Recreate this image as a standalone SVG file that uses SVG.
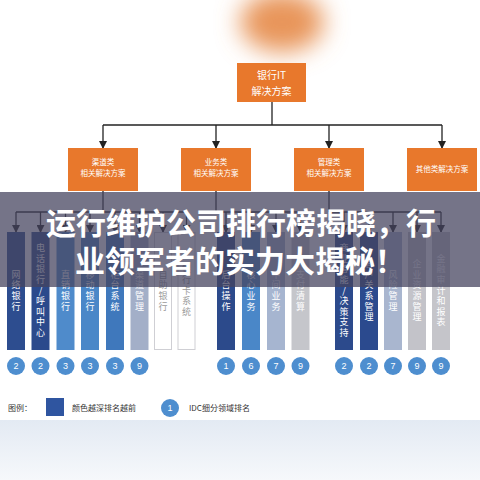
<svg xmlns="http://www.w3.org/2000/svg" width="480" height="480" viewBox="0 0 480 480">
<defs>
<filter id="blur" x="-50%" y="-50%" width="200%" height="200%"><feGaussianBlur stdDeviation="12"/></filter>
<linearGradient id="bottom" x1="0" y1="0" x2="0" y2="1"><stop offset="0" stop-color="#E3EAF3"/><stop offset="1" stop-color="#F6F8FB"/></linearGradient>
<marker id="arr" markerWidth="8" markerHeight="8" refX="7" refY="4" orient="auto" markerUnits="userSpaceOnUse"><path d="M0,0 L8,4 L0,8 Z" fill="#222"/></marker>
</defs>
<style>
.box{fill:#E8782C}
.bt{font-family:"Noto Sans CJK SC","Liberation Sans",sans-serif;fill:#fff;text-anchor:middle}
.ln{stroke:#222;stroke-width:1.3;fill:none}
.ar{stroke:#222;stroke-width:1.3;fill:none;marker-end:url(#arr)}
.ct{font-family:"Noto Sans CJK SC",sans-serif;font-size:9px;letter-spacing:1.6px;text-anchor:middle;writing-mode:vertical-rl;text-orientation:upright;fill:#fff}
.cg{fill:#9A9A9A}
.num{fill:#4E8ECF}
.nt{font-family:"Liberation Sans",sans-serif;font-size:9px;fill:#fff;text-anchor:middle}
.lg{font-family:"Noto Sans CJK SC",sans-serif;font-size:8px;fill:#333}
.ban{font-family:"Noto Sans CJK SC",sans-serif;font-weight:700;font-size:30px;fill:#fff;text-anchor:middle}
</style>
<rect width="480" height="480" fill="#FFFFFF"/>
<rect x="0" y="420" width="480" height="60" fill="url(#bottom)"/>
<ellipse cx="282" cy="22" rx="42" ry="30" fill="#E8955A" filter="url(#blur)"/>

<g id="connectors">
<line class="ln" x1="272" y1="102" x2="272" y2="125"/>
<line class="ln" x1="103" y1="125" x2="442" y2="125"/>
<line class="ar" x1="103" y1="125" x2="103" y2="148"/>
<line class="ar" x1="216" y1="125" x2="216" y2="148"/>
<line class="ar" x1="329" y1="125" x2="329" y2="148"/>
<line class="ar" x1="442" y1="125" x2="442" y2="148"/>
<line class="ln" x1="103" y1="190" x2="103" y2="212"/>
<line class="ln" x1="16" y1="212" x2="186.5" y2="212"/>
<line class="ar" x1="16" y1="212" x2="16" y2="232"/>
<line class="ar" x1="40.5" y1="212" x2="40.5" y2="232"/>
<line class="ar" x1="65.5" y1="212" x2="65.5" y2="232"/>
<line class="ar" x1="90" y1="212" x2="90" y2="232"/>
<line class="ar" x1="115" y1="212" x2="115" y2="232"/>
<line class="ar" x1="139.5" y1="212" x2="139.5" y2="232"/>
<line class="ar" x1="163" y1="212" x2="163" y2="232"/>
<line class="ar" x1="186.5" y1="212" x2="186.5" y2="232"/>
<line class="ln" x1="216" y1="190" x2="216" y2="212"/>
<line class="ln" x1="216" y1="212" x2="300.5" y2="212"/>
<line class="ar" x1="226" y1="212" x2="226" y2="232"/>
<line class="ar" x1="251" y1="212" x2="251" y2="232"/>
<line class="ar" x1="276" y1="212" x2="276" y2="232"/>
<line class="ar" x1="300.5" y1="212" x2="300.5" y2="232"/>
<line class="ln" x1="329" y1="190" x2="329" y2="212"/>
<line class="ln" x1="329" y1="212" x2="441" y2="212"/>
<line class="ar" x1="344" y1="212" x2="344" y2="232"/>
<line class="ar" x1="369" y1="212" x2="369" y2="232"/>
<line class="ar" x1="393" y1="212" x2="393" y2="232"/>
<line class="ar" x1="417" y1="212" x2="417" y2="232"/>
<line class="ar" x1="441" y1="212" x2="441" y2="232"/>
</g>

<g id="root"><rect class="box" x="237" y="63" width="69" height="39"/><text class="bt" x="271.5" y="79" font-size="10">银行IT</text><text class="bt" x="271.5" y="95" font-size="10">解决方案</text></g>
<g id="cat1"><rect class="box" x="68" y="148" width="70" height="43"/><text class="bt" x="103" y="165" font-size="7.5">渠道类</text><text class="bt" x="103" y="176" font-size="7.5">相关解决方案</text></g>
<g id="cat2"><rect class="box" x="181" y="148" width="70" height="43"/><text class="bt" x="216" y="165" font-size="7.5">业务类</text><text class="bt" x="216" y="176" font-size="7.5">相关解决方案</text></g>
<g id="cat3"><rect class="box" x="294" y="148" width="70" height="43"/><text class="bt" x="329" y="165" font-size="7.5">管理类</text><text class="bt" x="329" y="176" font-size="7.5">相关解决方案</text></g>
<g id="cat4"><rect class="box" x="407" y="148" width="70" height="43"/><text class="bt" x="442" y="172" font-size="7.5">其他类解决方案</text></g>

<g id="c1"><rect x="7" y="232" width="18" height="118" fill="#2D4D8F"/><text class="ct" x="16" y="291">网络银行</text><circle class="num" cx="16" cy="366" r="9"/><text class="nt" x="16" y="369">2</text></g>
<g id="c2"><rect x="31.5" y="232" width="18" height="118" fill="#2B4A8C"/><text class="ct" x="40.5" y="291">电话银行/呼叫中心</text><circle class="num" cx="40.5" cy="366" r="9"/><text class="nt" x="40.5" y="369">2</text></g>
<g id="c3"><rect x="56.5" y="232" width="18" height="118" fill="#4F8BCB"/><text class="ct" x="65.5" y="291">直销银行</text><circle class="num" cx="65.5" cy="366" r="9"/><text class="nt" x="65.5" y="369">3</text></g>
<g id="c4"><rect x="81" y="232" width="18" height="118" fill="#4A87C8"/><text class="ct" x="90" y="291">移动银行</text><circle class="num" cx="90" cy="366" r="9"/><text class="nt" x="90" y="369">3</text></g>
<g id="c5"><rect x="106" y="232" width="18" height="118" fill="#3F78BC"/><text class="ct" x="115" y="291">柜台系统</text><circle class="num" cx="115" cy="366" r="9"/><text class="nt" x="115" y="369">3</text></g>
<g id="c6"><rect x="130.5" y="232" width="18" height="118" fill="#A3AFC8"/><text class="ct" x="139.5" y="291">渠道管理</text><circle class="num" cx="139.5" cy="366" r="9"/><text class="nt" x="139.5" y="369">9</text></g>
<g id="c7"><rect x="154.5" y="232.5" width="17" height="117" fill="#FFFFFF" stroke="#CFCFD4"/><text class="ct cg" x="163" y="291">自助银行</text></g>
<g id="c8"><rect x="178" y="232.5" width="17" height="117" fill="#FFFFFF" stroke="#CFCFD4"/><text class="ct cg" x="186.5" y="291">银行卡系统</text></g>
<g id="c9"><rect x="217" y="232" width="18" height="118" fill="#2C4A8B"/><text class="ct" x="226" y="291">后台操作</text><circle class="num" cx="226" cy="366" r="9"/><text class="nt" x="226" y="369">1</text></g>
<g id="c10"><rect x="242" y="232" width="18" height="118" fill="#4A87C8"/><text class="ct" x="251" y="291">核心业务</text><circle class="num" cx="251" cy="366" r="9"/><text class="nt" x="251" y="369">6</text></g>
<g id="c11"><rect x="267" y="232" width="18" height="118" fill="#A6B5D0"/><text class="ct" x="276" y="291">中间业务</text><circle class="num" cx="276" cy="366" r="9"/><text class="nt" x="276" y="369">7</text></g>
<g id="c12"><rect x="291.5" y="232" width="18" height="118" fill="#C5C6CB"/><text class="ct" x="300.5" y="291">支付清算</text><circle class="num" cx="300.5" cy="366" r="9"/><text class="nt" x="300.5" y="369">9</text></g>
<g id="c13"><rect x="335" y="232" width="18" height="118" fill="#2C4A8C"/><text class="ct" x="344" y="291">商业智能/决策支持</text><circle class="num" cx="344" cy="366" r="9"/><text class="nt" x="344" y="369">2</text></g>
<g id="c14"><rect x="360" y="232" width="18" height="118" fill="#2B4A8E"/><text class="ct" x="369" y="291">客户关系管理</text><circle class="num" cx="369" cy="366" r="9"/><text class="nt" x="369" y="369">2</text></g>
<g id="c15"><rect x="384" y="232" width="18" height="118" fill="#A9B6CF"/><text class="ct" x="393" y="291">风险管理</text><circle class="num" cx="393" cy="366" r="9"/><text class="nt" x="393" y="369">7</text></g>
<g id="c16"><rect x="408" y="232" width="18" height="118" fill="#C3C3C9"/><text class="ct" x="417" y="291">企业资源管理</text><circle class="num" cx="417" cy="366" r="9"/><text class="nt" x="417" y="369">9</text></g>
<g id="c17"><rect x="432" y="232" width="18" height="118" fill="#C5C5CA"/><text class="ct" x="441" y="291">金融审计和报表</text><circle class="num" cx="441" cy="366" r="9"/><text class="nt" x="441" y="369">9</text></g>

<g id="legend">
<text class="lg" x="8" y="411">图例：</text>
<rect x="46" y="398" width="18" height="18" fill="#2F55A0"/>
<text class="lg" x="72" y="411">颜色越深排名越前</text>
<circle class="num" cx="170" cy="408" r="9"/><text class="nt" x="170" y="411" font-size="7">1</text>
<text class="lg" x="189" y="411">IDC细分领域排名</text>
</g>

<g id="banner">
<rect x="0" y="192" width="480" height="95" fill="#45435F" fill-opacity="0.74"/>
<text class="ban" x="241" y="234">运行维护公司排行榜揭晓，行</text>
<text class="ban" x="240" y="272">业领军者的实力大揭秘！</text>
</g>
</svg>
